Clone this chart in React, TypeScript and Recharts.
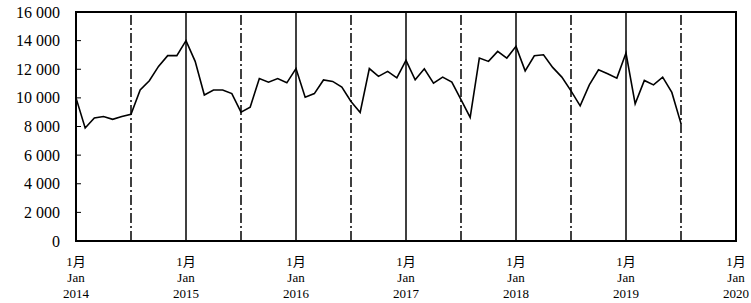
import { LineChart, Line, XAxis, YAxis, ReferenceLine, ReferenceArea } from "recharts";

// monthly values, Jan 2014 .. Jul 2019
const calls2014 = [10000, 7900, 8600, 8700, 8500, 8700, 8850, 10550, 11200, 12200, 12950, 12950];
const calls2015 = [14000, 12550, 10200, 10550, 10550, 10300, 9000, 9350, 11350, 11100, 11350, 11050];
const calls2016 = [12050, 10050, 10300, 11250, 11150, 10750, 9750, 8980, 12050, 11500, 11850, 11400];
const calls2017 = [12620, 11260, 12030, 11030, 11450, 11100, 9870, 8630, 12780, 12550, 13250, 12780];
const calls2018 = [13600, 11890, 12940, 13010, 12130, 11450, 10490, 9440, 10910, 11960, 11680, 11380];
const calls2019 = [13130, 9580, 11220, 10910, 11450, 10380, 8200];

const years = [2014, 2015, 2016, 2017, 2018, 2019, 2020];
const yTicks = [0, 2000, 4000, 6000, 8000, 10000, 12000, 14000, 16000];
const januaryMarks = [12, 24, 36, 48, 60];
const julyMarks = [6, 18, 30, 42, 54, 66];

const allCalls = [...calls2014, ...calls2015, ...calls2016, ...calls2017, ...calls2018, ...calls2019];
const data = allCalls.map((v, i) => ({ m: i, calls: v }));
const xTicks = years.map((_, i) => i * 12);

const serif = "'Liberation Serif', 'DejaVu Serif', serif";

const fmt = (v: number) => (v >= 1000 ? `${Math.floor(v / 1000)} ${String(v % 1000).padStart(3, "0")}` : String(v));

function YTick({ x, y, payload }: any) {
  return (
    <g>
      <text x={x} y={y} dy={5.5} textAnchor="end" style={{ fontFamily: serif, fontSize: 16 }} fill="#000">
        {fmt(payload.value)}
      </text>
      <line x1={x + 16} x2={x + 21} y1={y} y2={y} stroke="#000" strokeWidth={1} />
    </g>
  );
}

function XTick({ x, y, payload }: any) {
  const year = years[Math.round(payload.value / 12)];
  const st = { fontFamily: serif, fontSize: 13 };
  return (
    <g fill="#000">
      <text x={x} y={y} dy={24.5} textAnchor="middle" style={{ fontFamily: `${serif}, 'Noto Sans CJK JP'`, fontSize: 13 }}>1月</text>
      <text x={x} y={y} dy={40.5} textAnchor="middle" style={st}>Jan</text>
      <text x={x} y={y} dy={56.5} textAnchor="middle" style={st}>{year}</text>
    </g>
  );
}

export default function App() {
  return (
    <div style={{ position: "absolute", left: 0, top: 0, background: "#fff" }}>
      <LineChart width={751} height={303} data={data} margin={{ top: 12, right: 15, bottom: 7, left: 6 }}>
        <XAxis
          type="number"
          dataKey="m"
          domain={[0, 72]}
          ticks={xTicks}
          interval={0}
          axisLine={false}
          tickLine={false}
          tickSize={0}
          tickMargin={0}
          height={55}
          tick={<XTick />}
        />
        <YAxis
          domain={[0, 16000]}
          ticks={yTicks}
          interval={0}
          axisLine={false}
          tickLine={false}
          tickSize={0}
          tickMargin={16}
          width={70}
          tick={<YTick />}
        />
        {januaryMarks.map((m) => (
          <ReferenceLine key={`j${m}`} x={m} stroke="#000" strokeWidth={1.5} />
        ))}
        {julyMarks.map((m) => (
          <ReferenceLine key={`h${m}`} x={m} stroke="#000" strokeWidth={1.5} strokeDasharray="10 3 2 3" />
        ))}
        <Line
          type="linear"
          dataKey="calls"
          stroke="#000"
          strokeWidth={1.6}
          dot={false}
          isAnimationActive={false}
        />
        <ReferenceArea x1={0} x2={72} y1={0} y2={16000} fill="none" stroke="#000" strokeWidth={2} />
      </LineChart>
    </div>
  );
}
